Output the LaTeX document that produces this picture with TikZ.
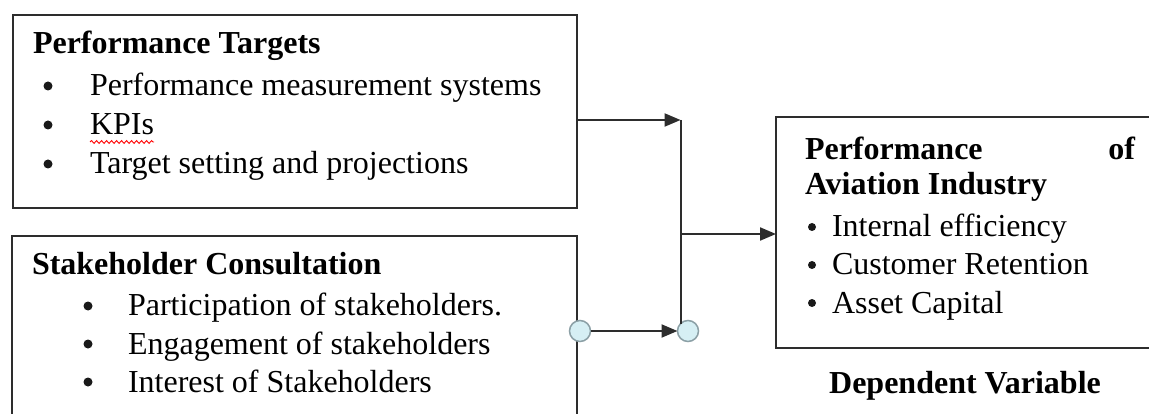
\documentclass[tikz,border=0pt]{standalone}
\usepackage{fontspec}
\setmainfont{Liberation Serif}
\usetikzlibrary{arrows.meta,decorations.pathmorphing}
\definecolor{edge}{RGB}{45,45,45}
\definecolor{dotfill}{RGB}{214,239,244}
\definecolor{dotline}{RGB}{140,160,166}
\begin{document}
\begin{tikzpicture}[x=1pt,y=-1pt,
  every node/.style={inner sep=0pt,outer sep=0pt,font=\fontsize{32}{38}\selectfont},
  box/.style={draw=edge,line width=2.2pt,rectangle,anchor=north west},
  txt/.style={anchor=base west},
  head/.style={anchor=base west,font=\fontsize{32}{38}\selectfont\bfseries},
  bul/.style={circle,fill=black!90,minimum size=9pt},
  link/.style={draw=edge,line width=2pt},
  arr/.style={link,-{Triangle[length=16pt,width=13pt]}},
  joint/.style={circle,draw=dotline,fill=dotfill,line width=1.5pt,minimum size=21pt}
]
\useasboundingbox (0,0) rectangle (1149,414);
\clip (0,0) rectangle (1149,414);

% the three boxes
\node[box,minimum width=564pt,minimum height=193pt] (pt) at (13,15) {};
\node[box,minimum width=565pt,minimum height=220pt] (sc) at (12,236) {};
\node[box,minimum width=420pt,minimum height=231pt] (pa) at (776,117) {};

% Performance Targets
\node[head] (ptt) at (33,54) {Performance Targets};
\foreach \y/\t [count=\i] in {96/Performance measurement systems,135/KPIs,174/Target setting and projections}{
  \node[bul] (ptb\i) at (48,\y-10) {};
  \node[txt] (pti\i) at (90,\y) {\t};
}
\draw[red,line width=0.9pt,decorate,decoration={snake,amplitude=1.4pt,segment length=5pt}]
  ([yshift=-7pt]pti2.base west) -- ([yshift=-7pt]pti2.base east);

% Stakeholder Consultation
\node[head] (sct) at (32,275) {Stakeholder Consultation};
\foreach \y/\t [count=\i] in {316/Participation of stakeholders.,354/Engagement of stakeholders,392/Interest of Stakeholders}{
  \node[bul] (scb\i) at (88,\y-10) {};
  \node[txt] (sci\i) at (128,\y) {\t};
}

% Performance of Aviation Industry
\node[head] (pat1) at (805,160) {\makebox[330pt]{Performance\hfill of}};
\node[head] (pat2) at (805,195) {Aviation Industry};
\foreach \y/\t [count=\i] in {237/Internal efficiency,275/Customer Retention,313/Asset Capital}{
  \node[bul,minimum size=8pt] (pab\i) at (812,\y-10) {};
  \node[txt] (pai\i) at (832,\y) {\t};
}
\node[head,anchor=base] (dv) at (965,393) {Dependent Variable};

% connectors
\node[joint] (cl) at (580,331) {};
\node[joint] (cr) at (688,331) {};
\coordinate (jtop) at (cr.north west |- 0,120);
\coordinate (jmid) at (cr.north west |- 0,234);
\draw[arr] (pt.east |- jtop) -- (jtop);
\draw[link] (jtop) -- (cr.north west);
\draw[arr] (jmid) -- (pa.west |- jmid);
\draw[arr] (cl.east) -- (cr.west);
\end{tikzpicture}
\end{document}
